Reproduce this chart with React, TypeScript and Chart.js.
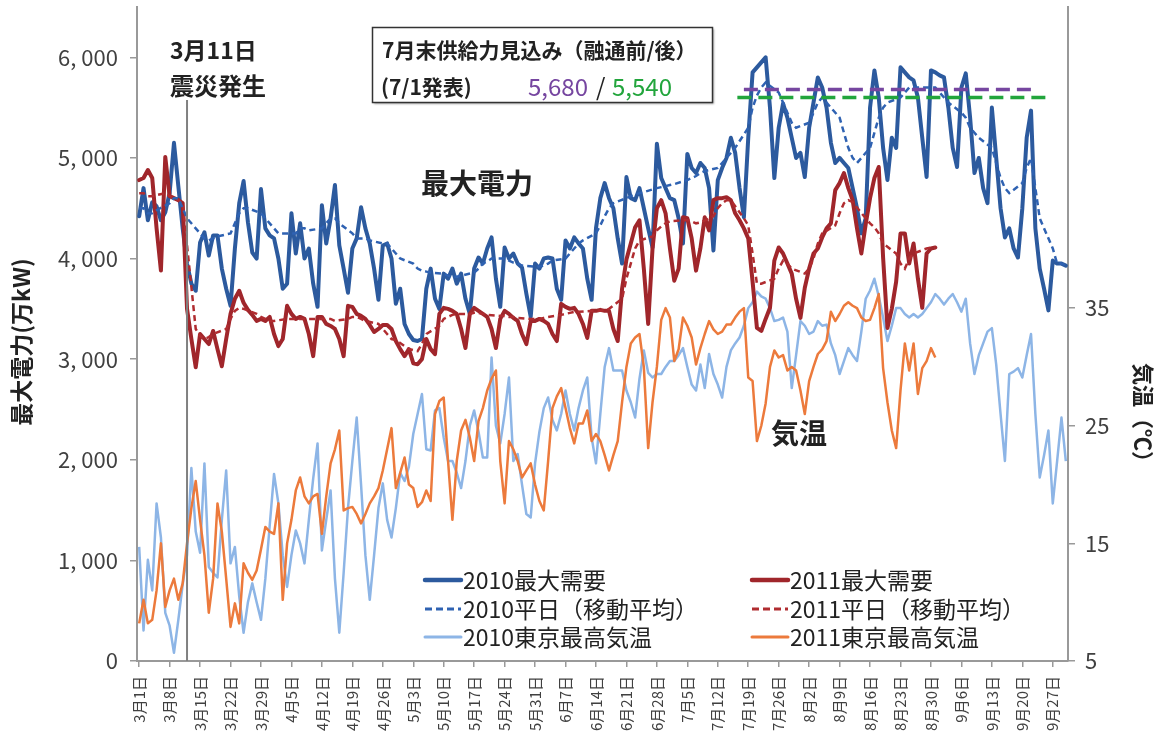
import React, { useEffect, useRef } from 'react';
import { Chart, registerables } from 'chart.js';
Chart.register(...registerables);

const FONT = '"Noto Sans CJK JP", "Noto Sans", sans-serif';

// x axis: day index 0 = 3月1日 ... 213 = 9月30日
const tickDays = [0, 7, 14, 21, 28, 35, 42, 49, 56, 63, 70, 77, 84, 91, 98, 105, 112, 119, 126, 133, 140, 147, 154, 161, 168, 175, 182, 189, 196, 203, 210];
const tickLabels = ['3月1日', '3月8日', '3月15日', '3月22日', '3月29日', '4月5日', '4月12日', '4月19日', '4月26日', '5月3日', '5月10日', '5月17日', '5月24日', '5月31日', '6月7日', '6月14日', '6月21日', '6月28日', '7月5日', '7月12日', '7月19日', '7月26日', '8月2日', '8月9日', '8月16日', '8月23日', '8月30日', '9月6日', '9月13日', '9月20日', '9月27日'];
const leftTicks = [0, 1000, 2000, 3000, 4000, 5000, 6000];
const rightTicks = [5, 15, 25, 35];

// 2010 最大需要 (万kW), daily from 3/1 (Mon)
const demand2010 = [
  4420, 4700, 4380, 4560, 4520, 4380, 4460,
  4650, 5150, 4720, 4300, 3950, 3750, 3680,
  4160, 4260, 4030, 4230, 4230, 3900, 3700,
  3530, 4100, 4550, 4770, 4360, 4060, 4000,
  4690, 4300, 4230, 4200, 4000, 3700, 3750,
  4450, 4050, 4350, 4000, 4100, 3750, 3520,
  4530, 4150, 4400, 4730, 4130, 3900, 3660,
  4100, 4200, 4510, 4300, 4150, 3900, 3590,
  4130, 4150, 4000, 3550, 3700, 3350, 3250,
  3190, 3180, 3200, 3700, 3900, 3600, 3500,
  3850, 3800, 3900, 3750, 3850, 3600, 3450,
  3900, 4010, 3950, 4100, 4210, 3800, 3520,
  4110, 4000, 4050, 3950, 3910, 3650, 3420,
  3950, 3900, 4000, 4010, 4000, 3700, 3590,
  4180, 4100, 4210, 4150, 4100, 3800, 3590,
  4300, 4600, 4750, 4600, 4500, 4200, 3950,
  4810, 4600, 4580, 4700, 4500, 4300, 4110,
  5140, 4800, 4700, 4600, 4580, 4400, 4150,
  5040, 4900, 4850, 4950, 4900, 4700, 4080,
  4780, 4900, 5000, 5200, 5050, 4700, 4410,
  5200, 5850, 5900, 5950, 6000, 5500, 4800,
  5300, 5540, 5400, 5200, 5000, 5050, 4810,
  5300, 5550, 5800, 5700, 5500, 5150, 4950,
  5000, 4950, 4900, 4700, 4500, 4250, 4400,
  5500, 5870, 5600, 5100, 4780, 5200, 5100,
  5900, 5850, 5800, 5770, 5600, 5200, 4810,
  5870, 5850, 5820, 5800, 5500, 5100, 4910,
  5700, 5840, 5400, 4850, 5000, 4700, 4550,
  5500, 5000, 4500, 4210, 4300, 4100, 4010,
  4500, 5200, 5470, 4300, 3900, 3700, 3485,
  3980, 3950, 3950, 3930,
];

// 2010 平日（移動平均）, weekends null
const ma2010 = [
  4500, 4500, 4450, 4450, 4480, null, null,
  4550, 4600, 4600, 4500, 4400, null, null,
  4250, 4200, 4180, 4200, 4220, null, null,
  4250, 4350, 4450, 4500, 4500, null, null,
  4450, 4400, 4350, 4300, 4250, null, null,
  4250, 4250, 4300, 4300, 4280, null, null,
  4300, 4350, 4400, 4400, 4350, null, null,
  4250, 4200, 4200, 4200, 4180, null, null,
  4150, 4150, 4100, 4050, 4000, null, null,
  3950, 3900, 3880, 3870, 3860, null, null,
  3850, 3830, 3820, 3820, 3830, null, null,
  3860, 3900, 3950, 3970, 4000, null, null,
  4000, 3980, 3960, 3950, 3930, null, null,
  3920, 3920, 3930, 3950, 3980, null, null,
  4000, 4050, 4100, 4150, 4180, null, null,
  4250, 4330, 4420, 4500, 4550, null, null,
  4600, 4620, 4640, 4650, 4660, null, null,
  4700, 4710, 4720, 4730, 4740, null, null,
  4780, 4800, 4820, 4850, 4870, null, null,
  4900, 4950, 5000, 5050, 5100, null, null,
  5300, 5500, 5620, 5700, 5750, null, null,
  5650, 5550, 5450, 5350, 5300, null, null,
  5350, 5450, 5550, 5600, 5550, null, null,
  5400, 5250, 5100, 5000, 4950, null, null,
  5100, 5250, 5400, 5500, 5550, null, null,
  5600, 5650, 5700, 5700, 5700, null, null,
  5700, 5700, 5650, 5600, 5550, null, null,
  5450, 5400, 5300, 5250, 5200, null, null,
  5100, 4950, 4800, 4700, 4650, null, null,
  4750, 4900, 5000, 4700, 4400, null, null,
  4100, 3950, 3950, 3930,
];

// 2011 最大需要 (万kW), daily from 3/1 (Tue) to 8/31
const demand2011 = [
  4780, 4800, 4880, 4800, 4300, 3880, 5010,
  4620, 4600, 4580, 4550, 3500, 3200, 2920,
  3250, 3200, 3150, 3280, 3100, 2930, 3200,
  3450, 3600, 3680, 3560, 3490, 3440, 3380,
  3400, 3380, 3420, 3250, 3130, 3200, 3530,
  3450, 3400, 3420, 3400, 3250, 3030, 3420,
  3420, 3350, 3330, 3300, 3200, 3030, 3530,
  3520, 3450, 3430, 3400, 3340, 3270, 3300,
  3340, 3340, 3300, 3180, 3100, 3030, 3100,
  2960, 2950, 3000, 3200, 3100, 3050, 3450,
  3510, 3500, 3480, 3450, 3300, 3110, 3450,
  3510, 3480, 3450, 3420, 3300, 3110, 3400,
  3480, 3450, 3410, 3380, 3250, 3150, 3380,
  3380, 3400, 3380, 3350, 3250, 3180, 3550,
  3520, 3500, 3510, 3450, 3350, 3210, 3480,
  3480, 3490, 3480, 3480, 3300, 3180, 3700,
  3990, 4150, 4310, 4380, 3900, 3350, 4100,
  4500, 4580, 4450, 4100, 3780, 3900, 4410,
  4400, 4200, 3880, 4100, 4410, 4280, 4580,
  4600, 4600, 4610, 4580, 4450, 4380, 4300,
  4200, 3770, 3310, 3280, 3400, 3510, 3980,
  4110, 4050, 3950, 3850, 3600, 3410, 3710,
  3900, 4050, 4100, 4210, 4300, 4350, 4680,
  4750, 4850, 4700, 4580, 4300, 4050, 4340,
  4600, 4800, 4910, 4010, 3310, 3500, 3770,
  4250, 4250, 3950, 4150, 3800, 3510, 4050,
  4100, 4110,
];

// 2011 平日（移動平均）, weekends null
const ma2011 = [
  4650, 4650, 4620, 4620, null, null, 4650,
  4620, 4600, 4580, 4550, null, null, 3300,
  3230, 3200, 3220, 3250, null, null, 3300,
  3400, 3480, 3510, 3500, null, null, 3450,
  3420, 3400, 3380, 3380, null, null, 3400,
  3400, 3400, 3400, 3400, null, null, 3400,
  3400, 3400, 3400, 3380, null, null, 3400,
  3420, 3420, 3400, 3380, null, null, 3350,
  3300, 3250, 3200, 3190, null, null, 3100,
  3090, 3080, 3150, 3250, null, null, 3330,
  3400, 3420, 3440, 3450, null, null, 3450,
  3460, 3460, 3450, 3440, null, null, 3430,
  3430, 3420, 3420, 3410, null, null, 3400,
  3400, 3400, 3410, 3420, null, null, 3440,
  3450, 3460, 3470, 3470, null, null, 3480,
  3480, 3480, 3490, 3500, null, null, 3600,
  3800, 3950, 4100, 4180, null, null, 4220,
  4280, 4320, 4350, 4370, null, null, 4380,
  4380, 4370, 4350, 4360, null, null, 4420,
  4500, 4550, 4580, 4580, null, null, 4400,
  4330, 4050, 3750, 3750, null, null, 3800,
  3900, 3980, 3950, 3900, null, null, 3850,
  3900, 4000, 4150, 4250, null, null, 4330,
  4450, 4550, 4580, 4560, null, null, 4400,
  4350, 4310, 4250, 4150, null, null, 4050,
  3950, 3900, 4000, 4050, null, null, 4100,
  4110, 4110,
];

// 2010 東京最高気温 (℃)
const temp2010 = [
  14.7, 7.6, 13.6, 11.0, 18.4, 15.5, 9.1,
  8.0, 5.7, 8.5, 11.5, 14.0, 21.4, 16.0,
  14.2, 21.8, 13.0, 12.5, 12.1, 17.0, 21.2,
  13.3, 14.7, 10.5, 7.4, 10.0, 11.6, 10.0,
  8.5, 12.0, 16.5, 20.9, 18.4, 14.0, 11.3,
  14.0, 16.1, 15.0, 13.3, 17.0, 20.5, 23.5,
  14.4, 17.0, 19.5, 12.0, 7.4, 12.5, 18.0,
  22.0, 25.7, 20.0, 14.0, 10.2, 14.0, 18.0,
  20.1, 17.0, 15.5, 18.0, 21.0, 20.3, 21.5,
  24.3, 26.0, 27.7, 23.0, 22.9, 26.3, 26.5,
  24.0, 22.0, 22.0, 21.0, 19.7, 22.0, 25.0,
  26.3, 24.5, 22.3, 22.3, 30.8, 25.0, 23.5,
  26.0, 29.1, 22.0, 22.6, 20.0, 17.5, 17.2,
  21.8, 24.5, 26.5, 27.4, 25.5, 24.6, 26.0,
  28.0, 26.0, 24.6, 26.5, 28.0, 29.1, 24.0,
  21.8, 26.0, 30.0, 31.6, 29.7, 29.7, 29.7,
  28.0, 27.0, 25.7, 29.0, 31.4, 29.5, 29.1,
  29.4, 29.4, 30.0, 30.5, 30.5, 31.0, 31.6,
  30.0, 28.5, 28.0, 30.2, 28.2, 31.1, 29.4,
  28.5, 27.4, 30.0, 31.4, 32.0, 32.5, 33.5,
  35.0, 35.5, 36.4, 36.0, 35.8, 35.0, 33.9,
  34.0, 34.2, 33.0, 28.2, 31.0, 33.9, 33.5,
  32.8, 33.0, 33.9, 33.5, 33.6, 32.0, 31.0,
  29.4, 30.5, 31.6, 31.0, 30.5, 33.0, 35.8,
  36.5, 37.5, 36.0, 34.2, 32.2, 33.5, 35.0,
  35.0, 34.5, 34.2, 34.5, 34.2, 34.5, 35.0,
  35.5, 36.2, 35.8, 35.3, 35.8, 36.2, 35.5,
  34.7, 35.8, 32.0, 29.4, 31.0, 32.0, 33.0,
  33.3, 30.2, 26.0, 22.0, 29.4, 29.6, 29.9,
  29.1, 31.0, 32.8, 26.0, 20.6, 22.5, 24.6,
  18.4, 22.0, 25.7, 22.0,
];

// 2011 東京最高気温 (℃)
const temp2011 = [
  8.2, 10.2, 8.2, 8.5, 11.0, 15.0, 9.6,
  11.0, 12.0, 10.2, 11.6, 15.0, 18.0, 20.3,
  17.0, 14.0, 9.1, 12.0, 18.4, 16.0, 12.0,
  7.9, 9.9, 8.2, 13.3, 12.5, 11.9, 12.7,
  14.5, 16.4, 16.0, 15.8, 18.4, 10.2, 15.0,
  17.0, 19.5, 20.6, 19.0, 18.4, 19.0, 19.2,
  15.8, 19.0, 21.8, 23.0, 24.6, 17.8, 18.0,
  18.1, 17.5, 16.7, 17.5, 18.4, 19.0, 19.7,
  21.2, 23.0, 24.8, 19.7, 21.0, 22.3, 20.0,
  19.7, 18.1, 18.5, 19.5, 18.6, 26.0, 27.1,
  27.4, 22.0, 17.0, 22.0, 24.6, 25.5, 24.0,
  22.0, 25.4, 26.5, 28.0, 29.0, 29.7, 22.0,
  18.4, 23.7, 23.0, 22.0, 20.6, 21.2, 21.8,
  20.0, 18.6, 17.8, 22.0, 26.5, 27.5, 28.2,
  26.5, 24.8, 23.5, 25.2, 25.2, 26.3, 23.7,
  24.3, 23.7, 22.5, 21.2, 22.5, 23.7, 27.0,
  30.0, 32.0, 32.5, 32.8, 30.0, 23.1, 27.0,
  30.0, 34.0, 35.0, 34.2, 30.5, 31.5, 34.2,
  33.5, 32.5, 30.2, 31.6, 32.8, 33.9, 33.2,
  32.8, 33.0, 33.6, 33.6, 34.2, 34.7, 35.0,
  29.1, 28.8, 23.7, 25.0, 26.9, 30.0, 31.4,
  30.8, 31.0, 29.7, 30.0, 29.7, 28.0, 26.0,
  28.8, 30.0, 31.1, 31.5, 32.2, 34.7, 33.9,
  34.5, 35.2, 35.5, 35.2, 35.0, 34.2, 33.9,
  34.0, 35.0, 36.2, 29.9, 27.0, 24.6, 23.1,
  28.0, 32.0, 29.7, 32.0, 27.7, 29.9, 30.5,
  31.6, 30.8,
];

// 7月末供給力見込み（融通前/後）, drawn over a day range
const supplyBefore = 5680;
const supplyAfter = 5600;
const supplyBeforeDays = [139, 205];
const supplyAfterDays = [137.5, 208.5];
const quakeLineDay = 11; // boundary after 3月11日

const C2010 = '#2C5A9E';
const C2011 = '#A0262B';
const C2010MA = '#2F62B2';
const C2011MA = '#B02C30';
const C2010T = '#8DB5E6';
const C2011T = '#EC7A3C';
const CPURPLE = '#7646A0';
const CGREEN = '#22A53C';

const toPts = (arr: (number | null)[]) => arr.map((v, i) => ({ x: i, y: v }));

const overlay = {
  id: 'overlay',
  afterDatasetsDraw(chart: any) {
    const ctx = chart.ctx as CanvasRenderingContext2D;
    const xs = chart.scales.x;
    const area = chart.chartArea;
    ctx.save();
    // quake vertical line
    const qx = xs.getPixelForValue(quakeLineDay);
    ctx.strokeStyle = '#808080';
    ctx.lineWidth = 2;
    ctx.beginPath();
    ctx.moveTo(qx, 100);
    ctx.lineTo(qx, area.bottom);
    ctx.stroke();

    ctx.textBaseline = 'middle';
    ctx.textAlign = 'left';
    ctx.fillStyle = '#222';
    ctx.font = `bold 23px ${FONT}`;
    ctx.fillText('3月11日', 170, 50);
    ctx.font = `bold 24px ${FONT}`;
    ctx.fillText('震災発生', 170, 86);

    ctx.font = `bold 28px ${FONT}`;
    ctx.fillText('最大電力', 421, 183);
    ctx.fillText('気温', 771, 433);

    // supply box
    ctx.save();
    ctx.shadowColor = 'rgba(0,0,0,0.35)';
    ctx.shadowOffsetX = 2;
    ctx.shadowOffsetY = 2;
    ctx.shadowBlur = 2;
    ctx.fillStyle = '#fff';
    ctx.fillRect(372, 27, 340, 75);
    ctx.restore();
    ctx.strokeStyle = '#333';
    ctx.lineWidth = 1.5;
    ctx.strokeRect(372.5, 27.5, 340, 75);
    ctx.fillStyle = '#222';
    ctx.font = `bold 21px ${FONT}`;
    ctx.fillText('7月末供給力見込み（融通前/後）', 382, 50);
    ctx.fillText('(7/1発表)', 381, 87);
    ctx.font = `24px ${FONT}`;
    ctx.fillStyle = CPURPLE;
    ctx.fillText('5,680', 528, 87);
    ctx.fillStyle = '#222';
    ctx.fillText('/', 596, 87);
    ctx.fillStyle = CGREEN;
    ctx.fillText('5,540', 612, 87);

    // legend
    const rows = [580, 609, 637];
    const items = [
      { x: 425, y: rows[0], color: C2010, w: 4.5, dash: [] as number[], text: '2010最大需要' },
      { x: 752, y: rows[0], color: C2011, w: 4.5, dash: [] as number[], text: '2011最大需要' },
      { x: 425, y: rows[1], color: C2010MA, w: 3, dash: [7, 4], text: '2010平日（移動平均）' },
      { x: 752, y: rows[1], color: C2011MA, w: 3, dash: [7, 4], text: '2011平日（移動平均）' },
      { x: 425, y: rows[2], color: C2010T, w: 3, dash: [] as number[], text: '2010東京最高気温' },
      { x: 752, y: rows[2], color: C2011T, w: 3, dash: [] as number[], text: '2011東京最高気温' },
    ];
    ctx.font = `23px ${FONT}`;
    for (const it of items) {
      ctx.strokeStyle = it.color;
      ctx.lineWidth = it.w;
      ctx.setLineDash(it.dash);
      ctx.lineCap = it.dash.length ? 'butt' : 'round';
      ctx.beginPath();
      ctx.moveTo(it.x, it.y);
      ctx.lineTo(it.x + 36, it.y);
      ctx.stroke();
      ctx.setLineDash([]);
      ctx.fillStyle = '#222';
      ctx.fillText(it.text, it.x + 38, it.y);
    }

    // axis titles
    ctx.fillStyle = '#222';
    ctx.textAlign = 'center';
    ctx.font = `bold 23px ${FONT}`;
    ctx.save();
    ctx.translate(21, 342);
    ctx.rotate(-Math.PI / 2);
    ctx.fillText('最大電力(万kW)', 0, 0);
    ctx.restore();
    ctx.font = `bold 22px ${FONT}`;
    ctx.save();
    ctx.translate(1143, 418);
    ctx.rotate(Math.PI / 2);
    ctx.fillText('気温（℃）', 0, 0);
    ctx.restore();
    ctx.restore();
  },
};

export default function App() {
  const ref = useRef<HTMLCanvasElement | null>(null);
  useEffect(() => {
    document.body.style.margin = '0';
    const canvas = ref.current;
    if (!canvas) return;
    const base = { pointRadius: 0, tension: 0, fill: false, spanGaps: true };
    const noVertPad = (s: any) => {
      s.paddingTop = 0;
      s.paddingBottom = 0;
    };
    const chart = new Chart(canvas, {
      type: 'line',
      data: {
        datasets: [
          { ...base, label: 'supplyBefore', data: supplyBeforeDays.map((d) => ({ x: d, y: supplyBefore })), borderColor: CPURPLE, borderWidth: 3.5, borderDash: [14, 7], yAxisID: 'y' },
          { ...base, label: 'supplyAfter', data: supplyAfterDays.map((d) => ({ x: d, y: supplyAfter })), borderColor: CGREEN, borderWidth: 3.5, borderDash: [14, 7], yAxisID: 'y' },
          { ...base, label: '2010平日（移動平均）', data: toPts(ma2010), borderColor: C2010MA, borderWidth: 2.5, borderDash: [6, 4], yAxisID: 'y' },
          { ...base, label: '2011平日（移動平均）', data: toPts(ma2011), borderColor: C2011MA, borderWidth: 2.5, borderDash: [6, 4], yAxisID: 'y' },
          { ...base, label: '2011最大需要', data: toPts(demand2011), borderColor: C2011, borderWidth: 4, borderJoinStyle: 'round', borderCapStyle: 'round', yAxisID: 'y' },
          { ...base, label: '2010最大需要', data: toPts(demand2010), borderColor: C2010, borderWidth: 4, borderJoinStyle: 'round', borderCapStyle: 'round', yAxisID: 'y' },
          { ...base, label: '2011東京最高気温', data: toPts(temp2011), borderColor: C2011T, borderWidth: 2.5, borderJoinStyle: 'round', yAxisID: 'y2' },
          { ...base, label: '2010東京最高気温', data: toPts(temp2010), borderColor: C2010T, borderWidth: 2.5, borderJoinStyle: 'round', yAxisID: 'y2' },
        ] as any,
      },
      options: {
        animation: false,
        responsive: false,
        maintainAspectRatio: false,
        layout: { padding: { top: 7, left: 0, right: 0, bottom: 0 } },
        plugins: { legend: { display: false }, tooltip: { enabled: false } },
        scales: {
          x: {
            type: 'linear',
            min: -0.5,
            max: 213.5,
            afterBuildTicks: (s: any) => {
              s.ticks = tickDays.map((v) => ({ value: v }));
            },
            afterFit: (s: any) => {
              s.height = 93;
              s.paddingLeft = 0;
              s.paddingRight = 0;
            },
            ticks: {
              autoSkip: false,
              minRotation: 90,
              maxRotation: 90,
              padding: 9,
              color: '#404040',
              font: { family: FONT, size: 15 },
              callback: (v: any) => tickLabels[tickDays.indexOf(Number(v))] ?? '',
            },
            grid: { drawOnChartArea: false, drawTicks: true, tickLength: 6, color: '#999', lineWidth: 1.5 },
            border: { color: '#999', width: 2 },
          },
          y: {
            type: 'linear',
            position: 'left',
            min: 0,
            max: 6500,
            afterBuildTicks: (s: any) => {
              s.ticks = leftTicks.map((v) => ({ value: v }));
            },
            afterFit: (s: any) => {
              s.width = 137;
              noVertPad(s);
            },
            ticks: {
              padding: 12,
              color: '#404040',
              font: { family: FONT, size: 22 },
              callback: (v: any) => Number(v).toLocaleString('en-US').replace(',', ', '),
            },
            grid: { drawOnChartArea: false, drawTicks: true, tickLength: 7, color: '#999', lineWidth: 1.5 },
            border: { color: '#999', width: 2 },
          },
          y2: {
            type: 'linear',
            position: 'right',
            min: 5,
            max: 60.6,
            afterBuildTicks: (s: any) => {
              s.ticks = rightTicks.map((v) => ({ value: v }));
            },
            afterFit: (s: any) => {
              s.width = 95;
              noVertPad(s);
            },
            ticks: {
              padding: 10,
              color: '#404040',
              font: { family: FONT, size: 22 },
              callback: (v: any) => String(v),
            },
            grid: { drawOnChartArea: false, drawTicks: true, tickLength: 7, color: '#999', lineWidth: 1.5 },
            border: { color: '#999', width: 2 },
          },
        },
      } as any,
      plugins: [overlay],
    });
    return () => chart.destroy();
  }, []);
  return <canvas ref={ref} width={1163} height={754} style={{ display: 'block' }} />;
}
